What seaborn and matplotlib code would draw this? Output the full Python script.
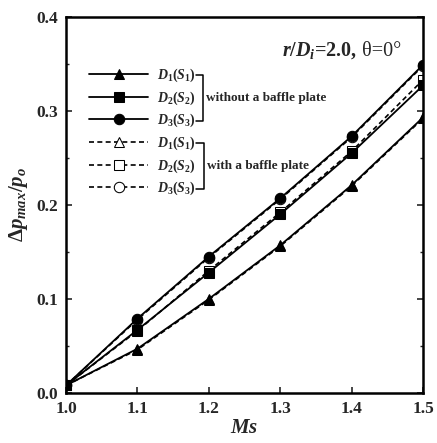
import matplotlib
matplotlib.use("Agg")
import matplotlib.pyplot as plt
import seaborn as sns
import numpy as np

sns.set_theme(style="white")
plt.rcParams['font.family'] = ['Liberation Serif', 'DejaVu Serif']
plt.rcParams['mathtext.fontset'] = 'custom'
plt.rcParams['mathtext.it'] = 'Liberation Serif:italic:bold'
plt.rcParams['mathtext.rm'] = 'Liberation Serif:bold'
plt.rcParams['mathtext.bf'] = 'Liberation Serif:bold'

ms = [1.0, 1.1, 1.2, 1.3, 1.4, 1.5]
# without a baffle plate
d1_without = [0.008, 0.047, 0.100, 0.157, 0.221, 0.293]
d2_without = [0.008, 0.067, 0.128, 0.190, 0.255, 0.327]
d3_without = [0.008, 0.079, 0.145, 0.207, 0.273, 0.349]
# with a baffle plate
d1_with = [0.008, 0.046, 0.099, 0.156, 0.220, 0.292]
d2_with = [0.008, 0.066, 0.130, 0.192, 0.257, 0.333]
d3_with = [0.008, 0.078, 0.144, 0.206, 0.272, 0.348]

labels = [r'$D_1(S_1)$', r'$D_2(S_2)$', r'$D_3(S_3)$']
markers = ['^', 's', 'o']

fig = plt.figure(figsize=(4.37, 4.43), dpi=100)
ax = fig.add_axes([0.151, 0.113, 0.817, 0.849])

h_with = []
for y, lab, mk in zip([d1_with, d2_with, d3_with], labels, markers):
    sns.lineplot(x=ms, y=y, ax=ax, color='black', marker=mk, markersize=7.5,
                 markeredgecolor='black', markerfacecolor='white', linewidth=1.2,
                 linestyle=(0, (3, 2)), label=lab)
    h_with.append(ax.lines[-1])
h_without = []
for y, lab, mk in zip([d1_without, d2_without, d3_without], labels, markers):
    sns.lineplot(x=ms, y=y, ax=ax, color='black', marker=mk, markersize=7.5,
                 markeredgecolor='black', markerfacecolor='black', linewidth=1.3,
                 linestyle='-', label=lab)
    h_without.append(ax.lines[-1])

ax.set_xlim(1.0, 1.5)
ax.set_ylim(0.0, 0.4)
ax.set_xticks([1.0, 1.1, 1.2, 1.3, 1.4, 1.5])
ax.set_yticks([0.0, 0.1, 0.2, 0.3, 0.4])
ax.set_yticks([0.05, 0.15, 0.25, 0.35], minor=True)
ax.set_xticklabels(['1.0', '1.1', '1.2', '1.3', '1.4', '1.5'], fontweight='bold', fontsize=12.5)
ax.set_yticklabels(['0.0', '0.1', '0.2', '0.3', '0.4'], fontweight='bold', fontsize=12.5)
ax.tick_params(which='both', direction='in', right=True, top=False, left=True, bottom=True)
ax.tick_params(which='major', length=4, width=1.2, pad=6)
ax.tick_params(which='minor', length=2.5, width=1.0)
for s in ax.spines.values():
    s.set_linewidth(1.8)
    s.set_color('black')

ax.set_xlabel(r'$Ms$', fontsize=15, labelpad=1)
ax.set_ylabel(r'$\Delta p_{max}/p_o$', fontsize=15, labelpad=4)

handles = h_without + h_with
leg = ax.legend(handles=handles, labels=labels + labels, loc='upper left',
                bbox_to_anchor=(0.05, 0.882), frameon=False,
                fontsize=10, handlelength=4.25, handletextpad=0.6, labelspacing=0.38,
                borderaxespad=0)

# brackets, placed from the legend text extents
fig.canvas.draw()
r = fig.canvas.get_renderer()
inv = ax.transAxes.inverted()
ext = [inv.transform(t.get_window_extent(r)) for t in leg.get_texts()]
tr = ax.transAxes

def bracket(i0, i1, xb, txt):
    ya = (ext[i0][0][1] + ext[i0][1][1]) / 2
    yb = (ext[i1][0][1] + ext[i1][1][1]) / 2
    xa0 = ext[i0][1][0] + 0.002
    xb0 = ext[i1][1][0] + 0.002
    ax.plot([xa0, xb, xb, xb0], [ya, ya, yb, yb], color='black', lw=1.1,
            transform=tr, clip_on=False)
    ax.text(xb + 0.008, (ya + yb) / 2, txt, transform=tr, fontsize=9.5,
            fontweight='bold', va='center', ha='left')

bracket(0, 2, 0.384, 'without a baffle plate')
bracket(3, 5, 0.386, 'with a baffle plate')

t1 = ax.text(0.605, 0.91, r'$r/D_i$=2.0,', transform=tr, fontsize=14.5,
             fontweight='bold', ha='left', va='center')
ax.annotate(' θ=0°', xy=(1, 0), xycoords=t1, va='bottom', ha='left', fontsize=14.5)

fig.savefig('out.png', dpi=100)
